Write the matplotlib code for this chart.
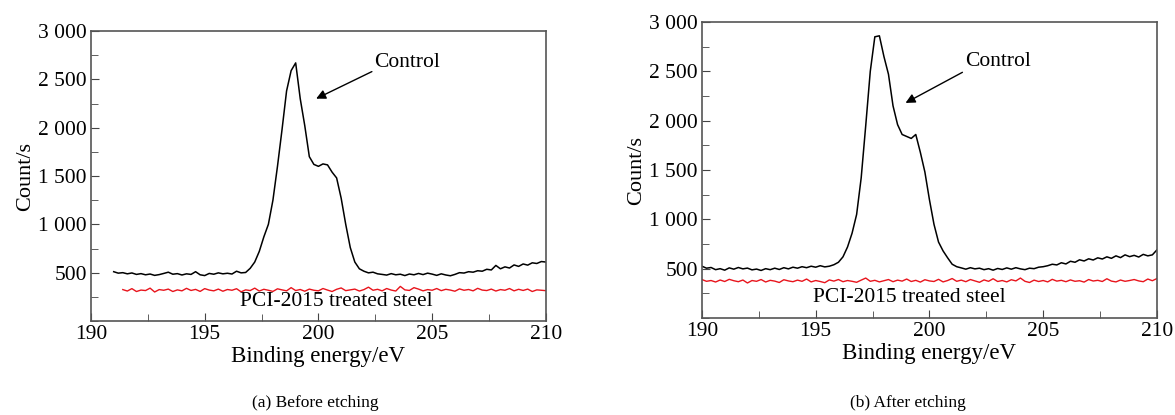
import numpy as np
import matplotlib
matplotlib.use("Agg")
import matplotlib.pyplot as plt
from matplotlib.ticker import FixedLocator, MultipleLocator, FuncFormatter

plt.rcParams['font.family'] = ['Liberation Serif', 'DejaVu Serif']

# (a) before etching: control, 191.0-210.0 eV, step 0.2
ctrl_a_start = 191.0
ctrl_a = [510, 495, 500, 488, 497, 482, 490, 478, 486, 472,
          480, 492, 505, 484, 490, 476, 488, 482, 510, 478,
          470, 492, 484, 498, 488, 494, 486, 515, 498, 502,
          545, 610, 720, 870, 1000, 1250, 1600, 1980, 2380, 2590,
          2670, 2300, 2020, 1700, 1620, 1600, 1625, 1615, 1540, 1480,
          1270, 1000, 760, 610, 540, 515, 498, 505, 488, 482,
          475, 490, 478, 484, 470, 486, 478, 492, 480, 495,
          485, 472, 488, 476, 468, 482, 500, 496, 510, 505,
          520, 515, 535, 528, 575, 540, 560, 548, 580, 565,
          590, 578, 602, 595, 615, 610]

# (a) PCI-2015 treated steel, 191.4-210.0 eV
pci_a_start = 191.4
pci_a = [325, 310, 335, 305, 320, 315, 340, 300, 325, 318, 330, 305, 322, 312, 338, 316, 327, 306, 335, 320,
         312, 330, 308, 326, 318, 334, 302, 322, 315, 340, 310, 328, 318, 306, 333, 322, 312, 345, 315, 326,
         308, 330, 318, 312, 336, 320, 305, 328, 342, 314, 322, 330, 310, 325, 350, 318, 328, 312, 336, 320,
         310, 358, 322, 316, 345, 330, 312, 325, 318, 336, 314, 328, 320, 308, 332, 318, 326, 312, 338, 320,
         315, 330, 310, 325, 318, 336, 312, 328, 316, 330, 305, 322, 318, 314]

# (b) after etching: control, 190.0-210.0 eV
ctrl_b_start = 190.0
ctrl_b = [525, 505, 512, 490, 500, 485, 508, 495, 512, 498,
          506, 488, 496, 482, 500, 490, 505, 492, 510, 498,
          515, 505, 520, 510, 525, 515, 530, 518, 525, 540,
          565, 620, 720, 860, 1050, 1420, 1950, 2500, 2850, 2860,
          2650, 2470, 2150, 1960, 1860, 1840, 1820, 1860, 1680, 1480,
          1200, 950, 770, 680, 610, 545, 520, 508, 495, 510,
          498, 505, 490, 500, 485, 502, 492, 508, 495, 510,
          498, 490, 505, 500, 515, 520, 530, 545, 538, 560,
          548, 575, 565, 590, 578, 600, 588, 610, 598, 620,
          605, 630, 612, 640, 622, 635, 618, 645, 630, 640,
          690]

pci_b_start = 190.0
pci_b = [390, 372, 380, 365, 385, 370, 392, 378, 368, 385, 355, 380, 372, 390, 365, 382, 374, 360, 388, 376,
         368, 384, 372, 395, 366, 380, 370, 358, 386, 374, 390, 368, 380, 372, 362, 384, 405, 372, 382, 366,
         378, 390, 368, 384, 374, 395, 370, 382, 364, 388, 376, 370, 392, 366, 380, 400, 372, 384, 368, 390,
         376, 362, 386, 372, 398, 370, 380, 366, 388, 376, 405, 372, 360, 384, 370, 380, 366, 392, 374, 382,
         368, 386, 372, 378, 364, 390, 375, 382, 370, 398, 374, 366, 385, 372, 380, 390, 376, 368, 395, 378, 400]

step = 0.2
captions = ["(a) Before etching", "(b) After etching"]


def energies(start, vals):
    return start + step * np.arange(len(vals))


def thousands(v, pos):
    return f"{int(v):,}".replace(",", " ")


fig = plt.figure(figsize=(11.75, 4.15), dpi=100)
ax_a = fig.add_axes([0.0774, 0.2265, 0.3872, 0.6988])
ax_b = fig.add_axes([0.5974, 0.2337, 0.3872, 0.7133])

panels = [
    (ax_a, ctrl_a_start, ctrl_a, pci_a_start, pci_a,
     (203.9, 2670), (202.35, 2580), (199.9, 2300), (200.8, 200)),
    (ax_b, ctrl_b_start, ctrl_b, pci_b_start, pci_b,
     (203.0, 2600), (201.45, 2490), (198.95, 2180), (199.1, 205)),
]

for ax, cs, cv, ps, pv, txt, tail, head, pci_pos in panels:
    ax.plot(energies(cs, cv), cv, color='black', lw=1.1)
    ax.plot(energies(ps, pv), pv, color='#e8141c', lw=1.0)

    ax.set_xlim(190, 210)
    ax.set_ylim(0, 3000)
    ax.xaxis.set_major_locator(MultipleLocator(5))
    ax.xaxis.set_minor_locator(MultipleLocator(2.5))
    ax.yaxis.set_major_locator(FixedLocator([500, 1000, 1500, 2000, 2500, 3000]))
    ax.yaxis.set_minor_locator(MultipleLocator(250))
    ax.yaxis.set_major_formatter(FuncFormatter(thousands))
    ax.tick_params(which='both', direction='in', labelsize=15.5, color='#444444')
    ax.tick_params(which='major', length=6, pad=3)
    ax.tick_params(which='minor', length=5)
    for sp in ax.spines.values():
        sp.set_color('#555555')
        sp.set_linewidth(1.2)

    ax.set_xlabel("Binding energy/eV", fontsize=16.5, labelpad=1)
    ax.set_ylabel("Count/s", fontsize=16, labelpad=2)

    ax.text(txt[0], txt[1], "Control", fontsize=15.5, ha='center', va='center')
    ax.annotate("", xy=head, xytext=tail,
                arrowprops=dict(arrowstyle='-|>', color='black', lw=1.0,
                                mutation_scale=14, shrinkA=0, shrinkB=0))
    ax.text(pci_pos[0], pci_pos[1], "PCI-2015 treated steel", fontsize=15.5,
            ha='center', va='center')

fig.text(0.268, 0.03, captions[0], fontsize=12.5, ha='center', va='center')
fig.text(0.773, 0.03, captions[1], fontsize=12.5, ha='center', va='center')

fig.savefig("out.png", dpi=100)
